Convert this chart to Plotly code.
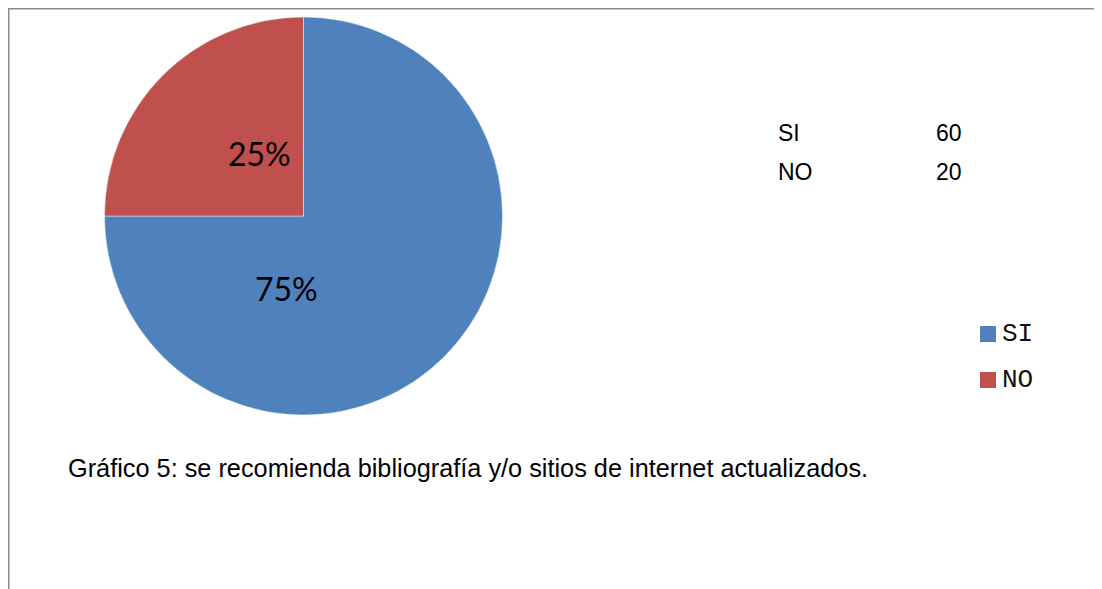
import plotly.graph_objects as go

# data
labels = ["SI", "NO"]
values = [60, 20]
colors = ["#4F81BD", "#C0504D"]
caption = "Gráfico 5: se recomienda bibliografía y/o sitios de internet actualizados."

W, H = 1102, 589
OFF = 8  # page body margin
cx, cy, r = 303.5, 216, 199


def px_x(x):
    return (x - OFF) / W


def px_y(y):
    return 1 - (y - OFF) / H


total = sum(values)
pcts = [f"{round(v * 100 / total)}%" for v in values]

fig = go.Figure(go.Pie(
    labels=labels, values=values, sort=False, direction="clockwise",
    rotation=0, marker=dict(colors=colors, line=dict(color="rgba(255,255,255,0.45)", width=1)),
    textinfo="none", hoverinfo="label+value+percent", showlegend=False,
    domain=dict(x=[px_x(cx - r), px_x(cx + r)], y=[px_y(cy + r), px_y(cy - r)]),
))

anns = []
# percentage labels inside slices
for txt, (x, y) in zip(pcts, [(286, 289), (259, 153)]):
    anns.append(dict(x=px_x(x), y=px_y(y), text=txt, showarrow=False,
                     font=dict(family="Lato, Calibri, sans-serif", size=32, color="#000000"),
                     xanchor="center", yanchor="middle"))

# small value table
for i, (lab, v) in enumerate(zip(labels, values)):
    y = 133 + i * 39
    anns.append(dict(x=px_x(776), y=px_y(y), text=lab, showarrow=False,
                     font=dict(family="Liberation Sans, Arial", size=23, color="#000"),
                     xanchor="left", yanchor="middle"))
    anns.append(dict(x=px_x(964), y=px_y(y), text=str(v), showarrow=False,
                     font=dict(family="Liberation Sans, Arial", size=23, color="#000"),
                     xanchor="right", yanchor="middle"))

# legend drawn by hand (monospace, wide spacing)
shapes = []
for i, (lab, c) in enumerate(zip(labels, colors)):
    y = 334 + i * 46
    shapes.append(dict(type="rect", xref="paper", yref="paper",
                       x0=px_x(980), x1=px_x(996), y0=px_y(y + 8), y1=px_y(y - 8),
                       fillcolor=c, line=dict(width=0)))
    anns.append(dict(x=px_x(1000), y=px_y(y), text=lab, showarrow=False,
                     font=dict(family="Liberation Mono, Courier New, monospace", size=26, color="#111"),
                     xanchor="left", yanchor="middle"))

# caption
anns.append(dict(x=px_x(66), y=px_y(468), text=caption, showarrow=False,
                 font=dict(family="Liberation Sans, Arial", size=25.3, color="#000"),
                 xanchor="left", yanchor="middle"))

# frame lines (top and left)
shapes.append(dict(type="line", xref="paper", yref="paper", x0=0, x1=1,
                   y0=px_y(8.5), y1=px_y(8.5), line=dict(color="#8a8a8a", width=2)))
shapes.append(dict(type="line", xref="paper", yref="paper", x0=px_x(8.5), x1=px_x(8.5),
                   y0=1, y1=0, line=dict(color="#8a8a8a", width=2)))

fig.update_layout(
    width=W, height=H, margin=dict(l=0, r=0, t=0, b=0),
    paper_bgcolor="white", plot_bgcolor="white",
    annotations=anns, shapes=shapes, showlegend=False,
)

fig.write_html("out.html")
